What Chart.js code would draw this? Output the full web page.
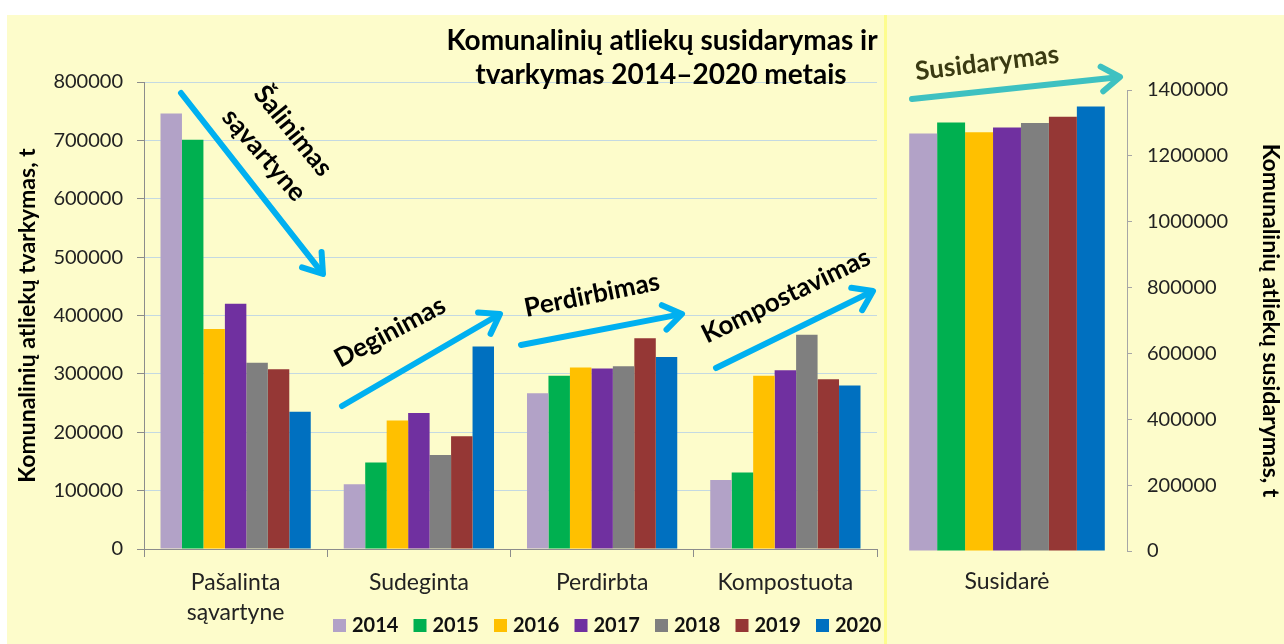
<!DOCTYPE html>
<html>
<head>
<meta charset="utf-8">
<script src="https://cdn.jsdelivr.net/npm/chart.js@4.4.1/dist/chart.umd.min.js"></script>
<style>
  body { margin: 0; background: #fff; width: 1284px; height: 644px; overflow: hidden; }
  #panel { position: absolute; left: 7px; top: 15px; width: 1277px; height: 629px; background: #FDFCCB; }
  #divider { position: absolute; left: 884px; top: 15px; width: 3px; height: 629px; background: #FDFD8E; }
  #left { position: absolute; left: 7px; top: 15px; }
  #right { position: absolute; left: 887px; top: 15px; }
</style>
</head>
<body>
<div id="panel"></div>
<div id="divider"></div>
<canvas id="left" width="877" height="629"></canvas>
<canvas id="right" width="397" height="629"></canvas>
<script>
const years = ['2014', '2015', '2016', '2017', '2018', '2019', '2020'];
const categories = [['Pašalinta', 'sąvartyne'], 'Sudeginta', 'Perdirbta', 'Kompostuota'];
const colors = ['#B2A2C7', '#00B050', '#FFC000', '#7030A0', '#7F7F7F', '#953735', '#0070C0'];

// tvarkymas, t: [Pašalinta, Sudeginta, Perdirbta, Kompostuota]
const v2014 = [746000, 111000, 267000, 118000];
const v2015 = [701000, 148000, 297000, 131000];
const v2016 = [377000, 220000, 311000, 297000];
const v2017 = [420000, 233000, 309000, 306000];
const v2018 = [319000, 161000, 313000, 367000];
const v2019 = [308000, 193000, 361000, 291000];
const v2020 = [235000, 347000, 329000, 280000];

// susidarymas, t
const generated = [1268000, 1301000, 1272000, 1286000, 1300000, 1319000, 1350000];

const leftTicks = [0, 100000, 200000, 300000, 400000, 500000, 600000, 700000, 800000];
const rightTicks = [0, 200000, 400000, 600000, 800000, 1000000, 1200000, 1400000];

const FONT = 'Lato';
const series = [v2014, v2015, v2016, v2017, v2018, v2019, v2020];

function arrow(ctx, x1, y1, x2, y2, color) {
  const a = Math.atan2(y2 - y1, x2 - x1);
  const len = 22;
  ctx.save();
  ctx.strokeStyle = color;
  ctx.lineWidth = 6;
  ctx.lineCap = 'round';
  ctx.lineJoin = 'round';
  ctx.beginPath();
  ctx.moveTo(x1, y1);
  ctx.lineTo(x2 - 2 * Math.cos(a), y2 - 2 * Math.sin(a));
  ctx.stroke();
  ctx.beginPath();
  ctx.moveTo(x2 - len * Math.cos(a - 0.6), y2 - len * Math.sin(a - 0.6));
  ctx.lineTo(x2, y2);
  ctx.lineTo(x2 - len * Math.cos(a + 0.6), y2 - len * Math.sin(a + 0.6));
  ctx.stroke();
  ctx.restore();
}

function label(ctx, text, x, y, deg, size, color) {
  ctx.save();
  ctx.translate(x, y);
  ctx.rotate(deg * Math.PI / 180);
  ctx.font = 'bold ' + size + 'px ' + FONT;
  ctx.fillStyle = color;
  ctx.textAlign = 'center';
  ctx.textBaseline = 'middle';
  ctx.fillText(text, 0, 0);
  ctx.restore();
}

// left panel: title, annotations, legend (page coords shifted by the canvas offset)
const leftDecor = {
  id: 'leftDecor',
  afterDraw(chart) {
    const ctx = chart.ctx;
    ctx.save();
    ctx.translate(-7, -15);
    ctx.font = 'bold 28px ' + FONT;
    ctx.fillStyle = '#000';
    ctx.textAlign = 'center';
    ctx.textBaseline = 'middle';
    ctx.fillText('Komunalinių atliekų susidarymas ir', 662, 41);
    ctx.fillText('tvarkymas 2014–2020 metais', 661, 75);

    const blue = '#00B0F0';
    arrow(ctx, 181, 93, 323, 274, blue);
    arrow(ctx, 342, 406, 500, 314, blue);
    arrow(ctx, 521, 345, 682, 314, blue);
    arrow(ctx, 716, 368, 873, 291, blue);

    label(ctx, 'Šalinimas', 293, 131, 51, 26, '#000');
    label(ctx, 'sąvartyne', 264, 155, 49, 26, '#000');
    label(ctx, 'Deginimas', 390, 332, -28, 26, '#000');
    label(ctx, 'Perdirbimas', 592, 295, -11.5, 26, '#000');
    label(ctx, 'Kompostavimas', 786, 296, -26, 26, '#000');

    // legend
    ctx.font = 'bold 20px ' + FONT;
    ctx.textAlign = 'left';
    chart.data.datasets.forEach((ds, i) => {
      const x = 333 + i * 80.5;
      ctx.fillStyle = ds.backgroundColor;
      ctx.fillRect(x, 619, 13, 13);
      ctx.fillStyle = '#111';
      ctx.fillText(ds.label, x + 19, 626);
    });
    ctx.restore();
  }
};

const rightDecor = {
  id: 'rightDecor',
  afterDraw(chart) {
    const ctx = chart.ctx;
    ctx.save();
    ctx.translate(-887, -15);
    arrow(ctx, 912, 99, 1120, 77, '#3EC1C1');
    label(ctx, 'Susidarymas', 987, 63, -7, 26, '#3A3A12');
    ctx.restore();
  }
};

const plain = v => String(v);

new Chart(document.getElementById('left'), {
  type: 'bar',
  data: {
    labels: categories,
    datasets: series.map((d, i) => ({
      label: years[i],
      data: d,
      backgroundColor: colors[i],
      borderWidth: 0,
      categoryPercentage: 0.82,
      barPercentage: 1.0
    }))
  },
  options: {
    responsive: false,
    animation: false,
    layout: { padding: { top: 67, right: 7, left: 0, bottom: 0 } },
    plugins: { legend: { display: false }, tooltip: { enabled: false } },
    scales: {
      x: {
        grid: { drawOnChartArea: false, tickLength: 8, color: '#8C8C8C' },
        border: { color: '#8C8C8C' },
        ticks: { font: { family: FONT, size: 23, lineHeight: 1.3 }, color: '#222', padding: 11 },
        afterFit: s => { s.height = 95; }
      },
      y: {
        min: 0,
        max: 800000,
        afterBuildTicks: s => { s.ticks = leftTicks.map(v => ({ value: v })); },
        grid: { color: '#C4D9E2', tickColor: '#8C8C8C', tickLength: 7 },
        border: { color: '#8C8C8C' },
        ticks: { font: { family: FONT, size: 20 }, color: '#222', padding: 14, callback: plain },
        title: {
          display: true,
          text: 'Komunalinių atliekų tvarkymas, t',
          font: { family: FONT, size: 23, weight: 'bold' },
          color: '#000',
          padding: { top: 7 }
        },
        afterFit: s => { s.width = 137; }
      }
    }
  },
  plugins: [leftDecor]
});

new Chart(document.getElementById('right'), {
  type: 'bar',
  data: {
    labels: ['Susidarė'],
    datasets: generated.map((v, i) => ({
      label: years[i],
      data: [v],
      backgroundColor: colors[i],
      borderWidth: 0,
      categoryPercentage: 0.815,
      barPercentage: 1.0
    }))
  },
  options: {
    responsive: false,
    animation: false,
    layout: { padding: { top: 75, right: 0, left: 0, bottom: 0 } },
    plugins: { legend: { display: false }, tooltip: { enabled: false } },
    scales: {
      x: {
        grid: { display: false, drawTicks: false },
        border: { display: false },
        ticks: { font: { family: FONT, size: 23 }, color: '#222', padding: 17 },
        afterFit: s => { s.height = 93; }
      },
      y: {
        position: 'right',
        min: 0,
        max: 1400000,
        afterBuildTicks: s => { s.ticks = rightTicks.map(v => ({ value: v })); },
        grid: { drawOnChartArea: false, color: '#A6A6A6', tickLength: 5 },
        border: { color: '#A6A6A6' },
        ticks: { font: { family: FONT, size: 20 }, color: '#222', padding: 15, callback: plain },
        title: {
          display: true,
          text: 'Komunalinių atliekų susidarymas, t',
          font: { family: FONT, size: 23, weight: 'bold' },
          color: '#000',
          padding: { top: 0 }
        },
        afterFit: s => { s.width = 157; }
      }
    }
  },
  plugins: [rightDecor]
});
</script>
</body>
</html>
